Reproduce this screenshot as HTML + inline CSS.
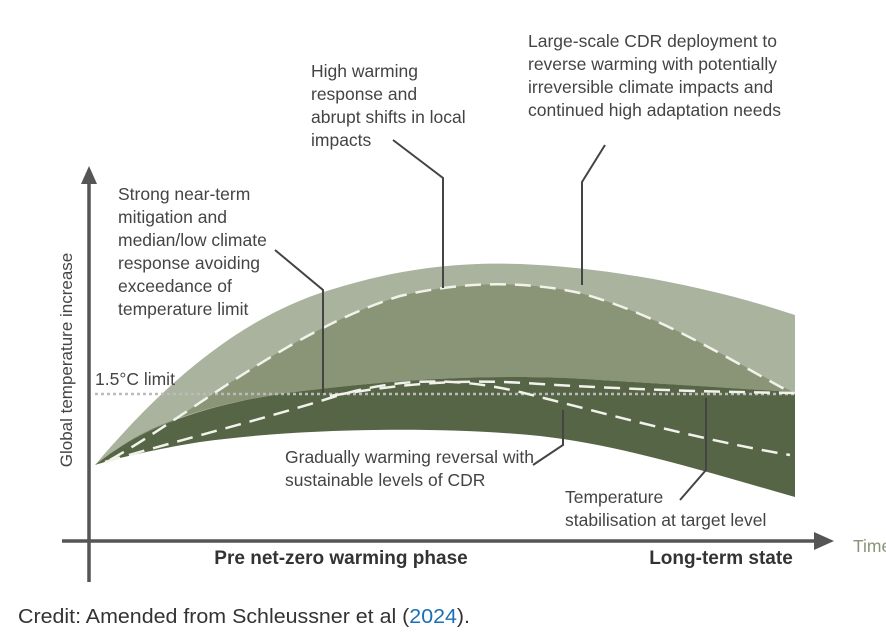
<!DOCTYPE html>
<html><head><meta charset="utf-8"><style>
html,body{margin:0;padding:0;background:#fff;width:886px;height:643px;overflow:hidden}
svg{display:block}
text{font-family:"Liberation Sans",sans-serif;fill:#444}
</style></head><body>
<svg width="886" height="643" viewBox="0 0 886 643">
<path d="M95,465 C150,400 230,320 330,290 C400,268 460,262 520,264 C620,268 720,290 795,315 L795,392 C760,390 700,386 600,380 C520,374 420,377 320,389 C230,398 150,420 95,465 Z" fill="#a9b39e"/>
<path d="M110,460 C190,415 290,330 400,296 C460,282 520,280 580,293 C660,315 730,360 795,393 L795,392 C760,390 700,386 600,380 C520,374 420,377 320,389 C230,398 150,420 110,455 Z" fill="#8a9578"/>
<path d="M95,465 C150,420 230,398 320,389 C420,377 520,374 600,380 C700,386 760,390 795,392 L795,497 C700,470 620,445 540,436 C440,426 300,428 200,442 C150,450 110,460 95,465 Z" fill="#566546"/>
<line x1="95" y1="394" x2="795" y2="394" stroke="#bbb" stroke-width="2.5" stroke-dasharray="3,3"/>
<g fill="none" stroke="#f2f2ea" stroke-width="2.5" stroke-dasharray="16,9">
<path d="M110,460 C190,415 290,330 400,296 C460,282 520,280 580,293 C660,315 730,360 790,392"/>
<path d="M105,462 C180,440 260,420 330,398 C400,376 460,378 520,392 C600,412 700,440 790,455"/>
<path d="M330,396 C400,384 460,378 540,384 C640,390 720,392 795,393"/>
</g>
<g stroke="#555" stroke-width="3.5" fill="none">
<line x1="89" y1="582" x2="89" y2="180"/>
<line x1="62" y1="541" x2="815" y2="541"/>
</g>
<polygon points="89,166 81,184 97,184" fill="#555"/>
<polygon points="834,541 814,532 814,550" fill="#555"/>
<g stroke="#444" stroke-width="2" fill="none">
<polyline points="275,250 323,290 323,393"/>
<polyline points="393,140 443,178 443,288"/>
<polyline points="605,145 582,182 582,285"/>
<polyline points="533,465 563,445 563,410"/>
<polyline points="680,500 706,470 706,398"/>
</g>
<g font-size="17.5">
<text x="528" y="47">Large-scale CDR deployment to</text>
<text x="528" y="70">reverse warming with potentially</text>
<text x="528" y="93">irreversible climate impacts and</text>
<text x="528" y="116">continued high adaptation needs</text>
<text x="311" y="77">High warming</text>
<text x="311" y="100">response and</text>
<text x="311" y="123">abrupt shifts in local</text>
<text x="311" y="146">impacts</text>
<text x="118" y="200">Strong near-term</text>
<text x="118" y="223">mitigation and</text>
<text x="118" y="246">median/low climate</text>
<text x="118" y="269">response avoiding</text>
<text x="118" y="292">exceedance of</text>
<text x="118" y="315">temperature limit</text>
<text x="95" y="385">1.5°C limit</text>
<text x="285" y="463">Gradually warming reversal with</text>
<text x="285" y="486">sustainable levels of CDR</text>
<text x="565" y="503">Temperature</text>
<text x="565" y="526">stabilisation at target level</text>
<text x="853" y="552" style="fill:#8a9578">Time</text>
<text transform="translate(72,360) rotate(-90)" text-anchor="middle" font-size="17">Global temperature increase</text>
</g>
<text x="341" y="564" text-anchor="middle" font-size="19" font-weight="bold" style="fill:#333">Pre net-zero warming phase</text>
<text x="721" y="564" text-anchor="middle" font-size="19" font-weight="bold" style="fill:#333">Long-term state</text>
<text x="18" y="623" font-size="20" textLength="452" lengthAdjust="spacingAndGlyphs" style="fill:#333">Credit: Amended from Schleussner et al (<tspan style="fill:#1a6fb5">2024</tspan>).</text>
</svg>
</body></html>
